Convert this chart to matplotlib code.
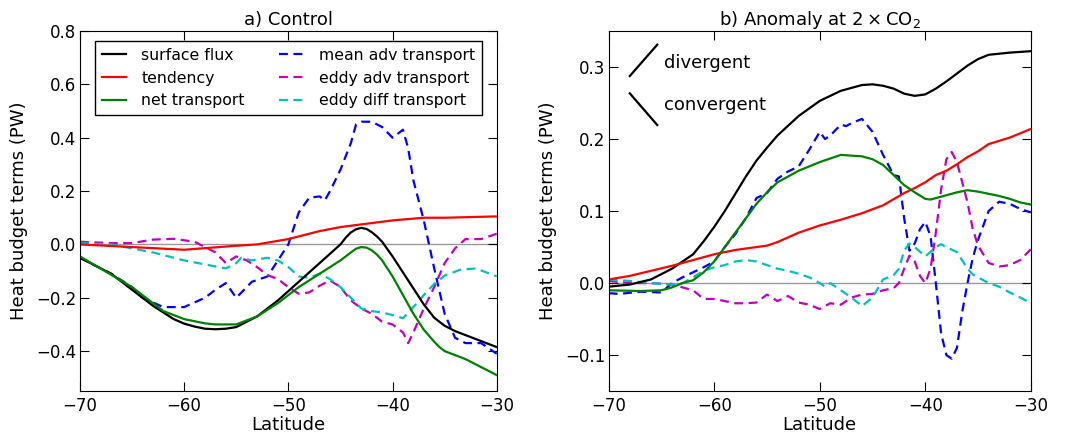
import numpy as np
import matplotlib
matplotlib.use('Agg')
import matplotlib.pyplot as plt

# ---------------------------------------------------------------------------
# a) Control  (latitude, value)
# ---------------------------------------------------------------------------
lat_sf_a = [-70, -67, -65, -63, -61, -60, -59, -58, -57, -56, -55, -53, -51, -49, -47,
            -46, -45, -44.5, -44, -43.5, -43, -42.5, -42, -41.5, -41, -40, -39, -38,
            -37, -36, -35, -34, -33, -30]
sf_a = [-0.05, -0.11, -0.17, -0.23, -0.28, -0.297, -0.308, -0.316, -0.318, -0.316,
        -0.31, -0.27, -0.21, -0.14, -0.07, -0.035, 0.0, 0.025, 0.045, 0.057, 0.062,
        0.058, 0.046, 0.03, 0.01, -0.045, -0.105, -0.165, -0.225, -0.275, -0.305,
        -0.325, -0.34, -0.385]

lat_tend_a = [-70, -65, -60, -55, -53, -50, -47, -45, -43, -40, -37, -35, -30]
tend_a = [0.0, -0.01, -0.02, -0.005, 0.0, 0.02, 0.05, 0.065, 0.075, 0.09, 0.10,
          0.10, 0.105]

lat_net_a = [-70, -65, -62, -60, -58, -57, -55, -53, -51, -49, -47, -45, -44, -43.5,
             -43, -42.5, -42, -41.5, -41, -40, -39, -38, -37, -36, -35.5, -35, -33,
             -30]
net_a = [-0.045, -0.16, -0.25, -0.28, -0.296, -0.30, -0.30, -0.27, -0.22, -0.16,
         -0.11, -0.06, -0.03, -0.016, -0.01, -0.012, -0.022, -0.038, -0.06, -0.12,
         -0.19, -0.26, -0.32, -0.365, -0.385, -0.40, -0.43, -0.49]

lat_mean_a = [-70, -67, -65, -64, -62, -60, -58, -57, -56, -55, -53.5, -52, -51, -50,
              -49, -48, -47, -46.5, -46, -45, -44, -43.5, -43, -42, -41, -40, -39,
              -38.5, -38, -37, -36, -35, -34, -33, -31.5, -30]
mean_a = [-0.05, -0.11, -0.16, -0.2, -0.235, -0.235, -0.2, -0.17, -0.145, -0.2,
          -0.14, -0.12, -0.06, 0.0, 0.12, 0.175, 0.18, 0.165, 0.2, 0.28, 0.38,
          0.45, 0.46, 0.46, 0.44, 0.40, 0.43, 0.36, 0.24, 0.09, -0.09, -0.26,
          -0.35, -0.37, -0.37, -0.41]

lat_eadv_a = [-70, -67, -65, -63, -61, -59, -58, -57, -56, -55, -54, -53, -52, -51,
              -50, -49, -48, -47, -46, -45, -44, -43, -42, -41, -40, -39, -38.5,
              -38, -37, -36, -35, -34, -33, -31.5, -30]
eadv_a = [0.01, 0.005, 0.005, 0.018, 0.021, 0.01, -0.01, -0.03, -0.07, -0.045,
          -0.06, -0.085, -0.115, -0.13, -0.16, -0.185, -0.18, -0.155, -0.135,
          -0.16, -0.21, -0.24, -0.26, -0.29, -0.30, -0.33, -0.37, -0.33, -0.24,
          -0.16, -0.07, -0.015, 0.02, 0.02, 0.04]

lat_ediff_a = [-70, -67, -65, -63, -61, -60, -58, -56, -55, -54.5, -53.5, -52, -51,
               -50, -49, -48, -47, -46, -45, -44, -43, -42, -41, -40, -39, -38,
               -37, -36, -35, -33.5, -32, -30]
ediff_a = [0.005, 0.0, -0.015, -0.03, -0.05, -0.06, -0.075, -0.09, -0.07, -0.05,
           -0.06, -0.05, -0.06, -0.085, -0.12, -0.125, -0.11, -0.13, -0.16, -0.2,
           -0.24, -0.25, -0.255, -0.265, -0.277, -0.235, -0.19, -0.148, -0.117,
           -0.095, -0.09, -0.12]

# ---------------------------------------------------------------------------
# b) Anomaly at 2xCO2
# ---------------------------------------------------------------------------
lat_sf_b = [-70, -68, -66, -64, -62, -61, -60, -59, -58, -57, -56, -55, -54, -52,
            -50, -48, -46, -45, -44, -43, -42, -41, -40, -39, -38, -37, -36, -35,
            -34, -32, -30]
sf_b = [-0.005, -0.002, 0.005, 0.02, 0.04, 0.058, 0.078, 0.1, 0.124, 0.148, 0.17,
        0.188, 0.205, 0.232, 0.253, 0.267, 0.275, 0.276, 0.274, 0.27, 0.263, 0.26,
        0.262, 0.27, 0.28, 0.291, 0.302, 0.311, 0.317, 0.32, 0.322]

lat_tend_b = [-70, -68, -66, -64, -62, -60, -58, -56, -55, -54, -52, -50, -48, -46,
              -44, -42, -41, -40, -39, -38, -37, -36, -35, -34, -32, -30]
tend_b = [0.005, 0.01, 0.017, 0.024, 0.032, 0.04, 0.046, 0.05, 0.052, 0.057, 0.07,
          0.08, 0.088, 0.097, 0.108, 0.125, 0.132, 0.14, 0.15, 0.156, 0.165, 0.175,
          0.183, 0.193, 0.202, 0.214]

lat_net_b = [-70, -67, -65, -64, -63, -62, -61, -60, -59, -58, -57, -56, -55, -54,
             -53, -52, -50, -49, -48, -46, -45, -44, -43, -42, -41, -40, -39.5, -39,
             -38, -37, -36, -35, -34, -33, -32, -31, -30]
net_b = [-0.01, -0.011, -0.01, -0.006, 0.0, 0.004, 0.015, 0.03, 0.05, 0.07, 0.09,
         0.11, 0.126, 0.14, 0.148, 0.156, 0.168, 0.173, 0.178, 0.176, 0.172, 0.164,
         0.15, 0.136, 0.126, 0.117, 0.116, 0.118, 0.122, 0.126, 0.129, 0.127, 0.124,
         0.121, 0.117, 0.112, 0.109]

lat_mean_b = [-70, -69, -67, -65, -64, -63, -62, -61, -60, -59, -58, -57, -56, -55,
              -54, -53, -52, -51, -50, -49.5, -49, -48, -47.5, -47, -46, -45, -44,
              -43, -42.5, -42, -41.5, -41, -40.5, -40, -39.5, -39, -38.5, -38, -37.5,
              -37, -36.5, -36, -35.5, -35, -34, -33, -32, -31, -30]
mean_b = [-0.014, -0.015, -0.012, -0.013, 0.0, 0.008, 0.015, 0.022, 0.03, 0.05,
          0.068, 0.09, 0.118, 0.125, 0.145, 0.155, 0.162, 0.185, 0.21, 0.2, 0.205,
          0.22, 0.218, 0.222, 0.228, 0.21, 0.178, 0.15, 0.148, 0.09, 0.045, 0.055,
          0.075, 0.085, 0.065, 0.0, -0.07, -0.1, -0.105, -0.09, -0.04, 0.0, 0.035,
          0.06, 0.1, 0.113, 0.11, 0.103, 0.098]

lat_eadv_b = [-70, -68, -66, -64, -62, -61, -60, -59, -58, -57, -56, -55, -54, -53,
              -52, -51, -50, -49, -48, -47.5, -47, -46, -45, -44, -43, -42.5, -42,
              -41.5, -41, -40.5, -40, -39.5, -39, -38.5, -38, -37.5, -37, -36.5, -36,
              -35.5, -35, -34, -33, -32, -31, -30]
eadv_b = [0.003, 0.0, 0.0, -0.002, -0.01, -0.022, -0.022, -0.025, -0.028, -0.028,
          -0.027, -0.016, -0.025, -0.018, -0.027, -0.03, -0.036, -0.028, -0.03,
          -0.025, -0.02, -0.016, -0.015, -0.01, -0.007, 0.0, 0.02, 0.038, 0.03,
          0.01, 0.0, 0.02, 0.07, 0.13, 0.172, 0.182, 0.168, 0.14, 0.112, 0.075,
          0.052, 0.028, 0.023, 0.025, 0.032, 0.047]

lat_ediff_b = [-70, -68, -66, -64, -63, -62, -61, -60, -59, -58, -57, -56, -55, -54,
               -53, -52, -51, -50, -49.5, -49, -48, -47, -46, -45, -44, -43, -42.5,
               -42, -41.5, -41, -40, -39, -38.5, -38, -37, -36, -35.5, -35, -34, -33,
               -32, -31, -30]
ediff_b = [0.005, 0.003, 0.0, -0.002, 0.0, 0.008, 0.017, 0.022, 0.025, 0.03, 0.032,
           0.03, 0.025, 0.02, 0.017, 0.013, 0.008, 0.0, -0.005, 0.0, -0.01, -0.02,
           -0.032, -0.02, 0.005, 0.011, 0.02, 0.045, 0.055, 0.05, 0.037, 0.05,
           0.054, 0.05, 0.043, 0.02, 0.012, 0.008, 0.0, -0.005, -0.013, -0.02,
           -0.028]

labels = ['surface flux', 'tendency', 'net transport',
          'mean adv transport', 'eddy adv transport', 'eddy diff transport']
colors = ['k', 'r', 'g', 'b', 'm', 'c']
styles = ['-', '-', '-', '--', '--', '--']

plt.rcParams['font.family'] = ['DejaVu Sans']
plt.rcParams['font.size'] = 13
plt.rcParams['xtick.labelsize'] = 12
plt.rcParams['ytick.labelsize'] = 12
plt.rcParams['xtick.direction'] = 'in'
plt.rcParams['ytick.direction'] = 'in'
plt.rcParams['xtick.top'] = True
plt.rcParams['ytick.right'] = True
plt.rcParams['xtick.major.size'] = 6.5
plt.rcParams['ytick.major.size'] = 6.5
plt.rcParams['xtick.major.pad'] = 4
plt.rcParams['ytick.major.pad'] = 2.5
plt.rcParams['lines.dashed_pattern'] = [4.0, 2.5]

fig = plt.figure(figsize=(10.66, 4.37), dpi=100)
ax1 = fig.add_axes([0.075, 0.105, 0.391, 0.824])
ax2 = fig.add_axes([0.571, 0.105, 0.396, 0.824])

series_a = [(lat_sf_a, sf_a), (lat_tend_a, tend_a), (lat_net_a, net_a),
            (lat_mean_a, mean_a), (lat_eadv_a, eadv_a), (lat_ediff_a, ediff_a)]
series_b = [(lat_sf_b, sf_b), (lat_tend_b, tend_b), (lat_net_b, net_b),
            (lat_mean_b, mean_b), (lat_eadv_b, eadv_b), (lat_ediff_b, ediff_b)]

# plotting order: dashed first, solid on top
order = [3, 4, 5, 0, 1, 2]

for ax, series in [(ax1, series_a), (ax2, series_b)]:
    ax.axhline(0, color='#999999', lw=1, zorder=1)
    for i in order:
        x, y = series[i]
        ax.plot(x, y, color=colors[i], ls=styles[i], lw=1.6, label=labels[i], zorder=2)
    ax.set_xlim(-70, -30)
    ax.set_xticks([-70, -60, -50, -40, -30])
    ax.set_xlabel('Latitude', labelpad=1)
    ax.set_ylabel('Heat budget terms (PW)', labelpad=6)

ax1.set_ylim(-0.55, 0.8)
ax1.set_yticks([-0.4, -0.2, 0.0, 0.2, 0.4, 0.6, 0.8])
ax1.set_title('a) Control', fontsize=13, pad=4)

ax2.set_ylim(-0.15, 0.35)
ax2.set_yticks([-0.1, 0.0, 0.1, 0.2, 0.3])
ax2.set_title(r'b) Anomaly at $2\times\mathrm{CO}_2$', fontsize=13, pad=4)

handles, labs = ax1.get_legend_handles_labels()
hmap = dict(zip(labs, handles))
leg = ax1.legend([hmap[l] for l in labels], labels, ncol=2, loc='upper center',
                 bbox_to_anchor=(0.5, 0.995), fontsize=11.3, fancybox=False,
                 framealpha=1, edgecolor='k', handlelength=1.5, handletextpad=1.0,
                 columnspacing=2.2, labelspacing=0.5, borderpad=0.45)
leg.get_frame().set_linewidth(1.0)

# slope key in panel b
ax2.plot([0.05, 0.115], [0.875, 0.962], color='k', lw=1.6, transform=ax2.transAxes)
ax2.plot([0.05, 0.115], [0.827, 0.739], color='k', lw=1.6, transform=ax2.transAxes)
ax2.text(0.13, 0.911, 'divergent', transform=ax2.transAxes, va='center', fontsize=13)
ax2.text(0.13, 0.794, 'convergent', transform=ax2.transAxes, va='center', fontsize=13)

fig.savefig('out.png', dpi=100)
